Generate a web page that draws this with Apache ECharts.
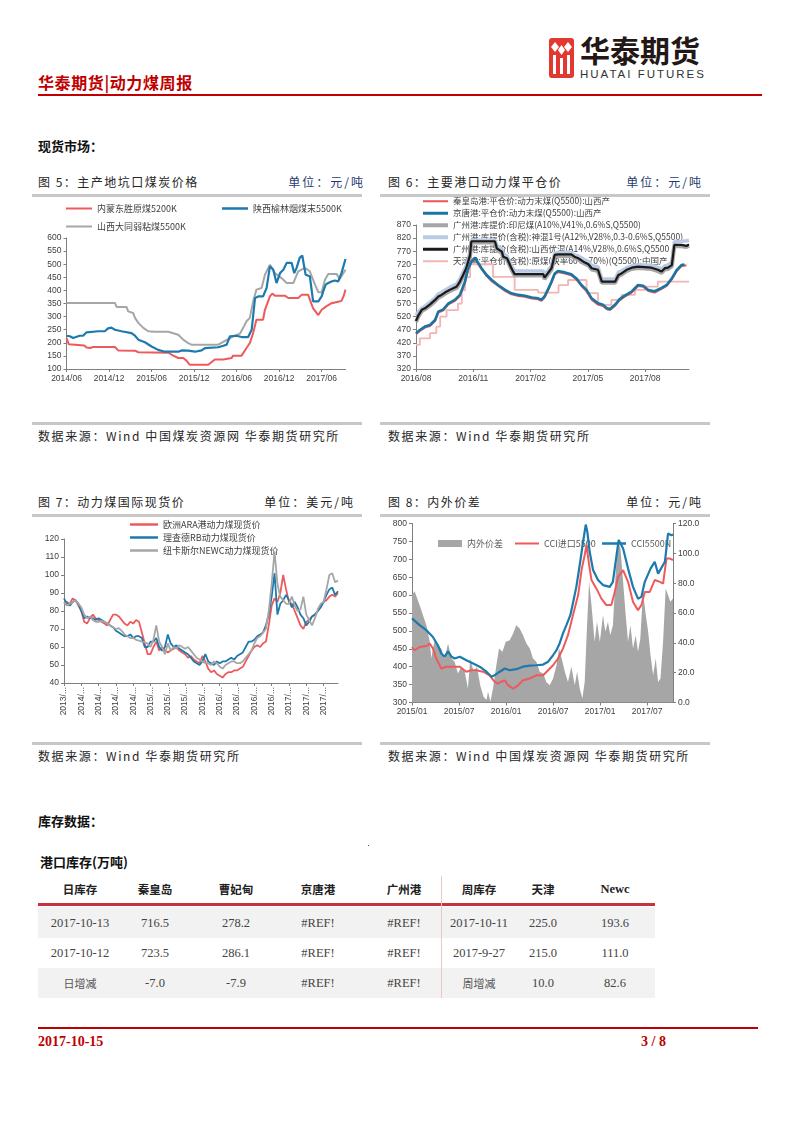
<!DOCTYPE html>
<html><head><meta charset="utf-8">
<script src="https://cdn.jsdelivr.net/npm/echarts@6/dist/echarts.min.js"></script>
<style>
body{margin:0;background:#fff;}
#page{position:relative;width:793px;height:1122px;overflow:hidden;background:#fff;font-family:'Noto Sans CJK SC',sans-serif;}
.a{position:absolute;white-space:nowrap;}
.title{font-size:12px;line-height:16px;color:#262626;letter-spacing:1.5px;}
.unit{font-size:12px;line-height:16px;letter-spacing:2px;text-align:right;}
.rule{position:absolute;height:3px;background:#C8C8C8;}
.src{font-size:12px;line-height:16px;color:#262626;letter-spacing:1.6px;}
.sec{font-size:13px;line-height:16px;font-weight:bold;color:#111;}
.cell{position:absolute;width:100px;text-align:center;line-height:16px;white-space:nowrap;}
.hd{font-size:11.5px;font-weight:bold;color:#222;}
.hdl{font-family:'Liberation Serif',serif;font-size:12.5px;font-weight:bold;color:#222;}
.num{font-family:'Liberation Serif',serif;font-size:12.5px;color:#444;}
.cj{font-size:11px;color:#555;}
#chart{position:absolute;left:0;top:0;width:793px;height:1122px;}
</style></head><body>
<div id="page">
  <!-- header -->
  <div class="a" style="left:38px;top:73px;font-size:16px;line-height:18px;color:#C00000;font-weight:bold;letter-spacing:0.6px;">华泰期货|动力煤周报</div>
  <div class="a" style="left:38px;top:94px;width:724px;height:2px;background:#C00000;"></div>
  <svg class="a" style="left:547px;top:35px;" width="170" height="48" viewBox="0 0 170 48">
    <rect x="2" y="3" width="25" height="40" rx="3" fill="#E2382F"/>
    <path d="M8 7 L12 12 L8 17 L4 12 Z" fill="#fff"/>
    <path d="M21 7 L25 12 L21 17 L17 12 Z" fill="#fff"/>
    <path d="M14.5 10 L18 15 L14.5 20 L11 15 Z" fill="#fff"/>
    <rect x="6" y="20" width="3" height="19" fill="#fff"/>
    <rect x="13" y="23" width="3" height="16" fill="#fff"/>
    <rect x="20" y="20" width="3" height="19" fill="#fff"/>
    <text x="33" y="27" font-family="Noto Sans CJK SC" font-weight="bold" font-size="30" fill="#231815">华泰期货</text>
    <text x="33" y="43" font-family="Liberation Sans" font-size="11.5" letter-spacing="2" fill="#333">HUATAI FUTURES</text>
  </svg>

  <div class="a sec" style="left:38px;top:138px;">现货市场：</div>

  <!-- chart frames -->
  <div class="a title" style="left:38px;top:174px;">图 5：主产地坑口煤炭价格</div>
  <div class="a unit" style="right:428px;top:174px;color:#1F3A6E;">单位：元/吨</div>
  <div class="rule" style="left:32px;top:194px;width:330px;"></div>
  <div class="rule" style="left:32px;top:422px;width:330px;"></div>
  <div class="a src" style="left:38px;top:428px;">数据来源：Wind 中国煤炭资源网 华泰期货研究所</div>

  <div class="a title" style="left:388px;top:174px;">图 6：主要港口动力煤平仓价</div>
  <div class="a unit" style="right:90px;top:174px;color:#1F3A6E;">单位：元/吨</div>
  <div class="rule" style="left:380px;top:194px;width:330px;"></div>
  <div class="rule" style="left:380px;top:422px;width:330px;"></div>
  <div class="a src" style="left:388px;top:428px;">数据来源：Wind 华泰期货研究所</div>

  <div class="a title" style="left:38px;top:494px;">图 7：动力煤国际现货价</div>
  <div class="a unit" style="right:438px;top:494px;color:#222;">单位：美元/吨</div>
  <div class="rule" style="left:32px;top:514px;width:330px;"></div>
  <div class="rule" style="left:32px;top:742px;width:330px;"></div>
  <div class="a src" style="left:38px;top:748px;">数据来源：Wind 华泰期货研究所</div>

  <div class="a title" style="left:388px;top:494px;">图 8：内外价差</div>
  <div class="a unit" style="right:90px;top:494px;color:#222;">单位：元/吨</div>
  <div class="rule" style="left:380px;top:514px;width:330px;"></div>
  <div class="rule" style="left:380px;top:742px;width:330px;"></div>
  <div class="a src" style="left:388px;top:748px;">数据来源：Wind 中国煤炭资源网 华泰期货研究所</div>

  <!-- inventory -->
  <div class="a sec" style="left:38px;top:813px;">库存数据：</div>
  <div class="a" style="left:368px;top:845px;width:1px;height:1px;background:#555;"></div>
  <div class="a sec" style="left:40px;top:854px;">港口库存(万吨)</div>
  <div id="table"></div>

  <!-- footer -->
  <div class="a" style="left:38px;top:1027px;width:720px;height:2px;background:#C00000;"></div>
  <div class="a" style="left:38px;top:1034px;font-family:'Liberation Serif',serif;font-weight:bold;font-size:14px;line-height:16px;color:#C00000;">2017-10-15</div>
  <div class="a" style="left:641px;top:1034px;font-family:'Liberation Serif',serif;font-weight:bold;font-size:14px;line-height:16px;color:#C00000;">3 / 8</div>

  <div id="chart"></div>
</div>
<script>
// ---------------- table data ----------------
const tblHeader = ['日库存','秦皇岛','曹妃甸','京唐港','广州港','周库存','天津','Newc'];
const tblRow1 = ['2017-10-13','716.5','278.2','#REF!','#REF!','2017-10-11','225.0','193.6'];
const tblRow2 = ['2017-10-12','723.5','286.1','#REF!','#REF!','2017-9-27','215.0','111.0'];
const tblRow3 = ['日增减','-7.0','-7.9','#REF!','#REF!','周增减','10.0','82.6'];

// ---------------- Figure 5 ----------------
const c5Names = ['内蒙东胜原煤5200K','陕西榆林烟煤末5500K','山西大同弱粘煤5500K'];
const c5Red = [['2014-06-01',218],['2014-06-11',194],['2014-08-16',190],['2014-08-26',182],['2014-09-10',180],['2014-09-24',184],['2014-12-26',184],['2015-01-10',171],['2015-03-21',170],['2015-04-05',164],['2015-08-12',162],['2015-08-19',161],['2015-09-03',151],['2015-09-24',142],['2015-10-15',142],['2015-10-29',132],['2015-11-13',116],['2016-02-01',116],['2016-02-08',123],['2016-02-29',136],['2016-04-05',136],['2016-04-11',142],['2016-05-10',142],['2016-05-16',151],['2016-06-22',151],['2016-06-29',158],['2016-07-13',180],['2016-07-27',199],['2016-08-11',237],['2016-08-25',288],['2016-09-23',288],['2016-10-01',326],['2016-10-22',377],['2016-11-02',388],['2016-11-13',380],['2016-12-25',380],['2017-01-10',371],['2017-02-22',371],['2017-03-06',383],['2017-04-04',383],['2017-04-11',377],['2017-04-25',331],['2017-05-17',306],['2017-06-01',326],['2017-06-22',340],['2017-07-13',351],['2017-08-11',357],['2017-08-25',360],['2017-09-04',378],['2017-09-12',403]];
const c5Blue = [['2014-06-01',227],['2014-06-15',225],['2014-06-29',218],['2014-07-27',227],['2014-08-11',227],['2014-08-26',240],['2014-10-15',244],['2014-11-13',244],['2014-11-27',255],['2014-12-11',258],['2014-12-26',250],['2015-01-24',244],['2015-03-06',237],['2015-03-21',227],['2015-04-05',212],['2015-05-03',202],['2015-06-01',186],['2015-06-29',173],['2015-07-27',166],['2015-09-24',166],['2015-10-08',171],['2015-11-06',170],['2015-12-05',166],['2016-01-03',171],['2016-01-17',180],['2016-03-13',183],['2016-04-05',189],['2016-04-19',193],['2016-05-03',225],['2016-06-01',227],['2016-06-22',222],['2016-07-20',222],['2016-08-05',250],['2016-08-19',371],['2016-09-03',377],['2016-09-23',377],['2016-10-08',409],['2016-10-22',492],['2016-11-06',480],['2016-11-20',428],['2016-12-05',466],['2016-12-19',479],['2017-01-03',505],['2017-01-24',505],['2017-02-05',466],['2017-02-15',486],['2017-02-28',524],['2017-03-09',533],['2017-03-23',460],['2017-04-11',454],['2017-04-25',358],['2017-05-17',358],['2017-06-01',377],['2017-06-08',397],['2017-06-18',422],['2017-06-29',428],['2017-07-13',434],['2017-07-27',438],['2017-08-11',434],['2017-08-25',466],['2017-09-12',520]];
const c5Gray = [['2014-06-01',352],['2014-12-26',352],['2015-01-03',337],['2015-02-15',337],['2015-02-22',320],['2015-03-13',314],['2015-03-21',295],['2015-04-05',276],['2015-04-26',257],['2015-05-17',244],['2015-06-15',242],['2015-08-12',242],['2015-08-19',235],['2015-09-24',231],['2015-10-15',212],['2015-11-06',199],['2015-11-20',193],['2016-03-13',193],['2016-04-05',204],['2016-04-26',214],['2016-05-24',227],['2016-06-15',235],['2016-06-29',257],['2016-07-13',282],['2016-07-27',295],['2016-08-11',358],['2016-08-25',403],['2016-09-17',409],['2016-10-01',460],['2016-10-22',498],['2016-11-13',466],['2016-12-11',447],['2017-01-03',428],['2017-02-01',428],['2017-02-22',473],['2017-03-20',486],['2017-04-11',473],['2017-05-03',422],['2017-05-17',393],['2017-06-01',393],['2017-06-15',441],['2017-06-29',463],['2017-08-04',463],['2017-08-18',444],['2017-09-12',479]];

// ---------------- Figure 6 ----------------
const c6Names = ['秦皇岛港:平仓价:动力末煤(Q5500):山西产','京唐港:平仓价:动力末煤(Q5500):山西产','广州港:库提价:印尼煤(A10%,V41%,0.6%S,Q5500)','广州港:库提价(含税):神混1号(A12%,V28%,0.3-0.6%S,Q5500)','广州港:库提价(含税):山西优混(A14%,V28%,0.6%S,Q5500','天津港:平仓价(含税):原煤(块率60%-70%)(Q5500):中国产'];
const c6Qhd = [['2016-08-01',453],['2016-08-07',465],['2016-08-15',478],['2016-08-23',484],['2016-08-31',503],['2016-09-06',535],['2016-09-14',544],['2016-09-22',567],['2016-10-02',580],['2016-10-10',599],['2016-10-18',650],['2016-10-23',700],['2016-10-28',726],['2016-11-04',741],['2016-11-09',720],['2016-11-14',701],['2016-11-22',675],['2016-11-30',655],['2016-12-10',637],['2016-12-21',618],['2017-01-01',605],['2017-01-12',599],['2017-01-22',596],['2017-02-03',589],['2017-02-13',586],['2017-02-18',580],['2017-02-23',593],['2017-02-28',618],['2017-03-04',650],['2017-03-09',681],['2017-03-14',690],['2017-03-25',685],['2017-04-05',678],['2017-04-13',662],['2017-04-21',637],['2017-04-29',617],['2017-05-07',585],['2017-05-17',566],['2017-05-25',560],['2017-05-31',548],['2017-06-06',545],['2017-06-14',562],['2017-06-21',583],['2017-06-29',596],['2017-07-10',612],['2017-07-20',637],['2017-07-28',634],['2017-08-06',618],['2017-08-16',612],['2017-08-27',626],['2017-09-05',637],['2017-09-13',662],['2017-09-21',695],['2017-09-28',712],['2017-10-06',716]];
const c6Jtg = [['2016-08-01',457],['2016-08-07',469],['2016-08-15',482],['2016-08-23',488],['2016-08-31',507],['2016-09-06',539],['2016-09-14',548],['2016-09-22',571],['2016-10-02',584],['2016-10-10',603],['2016-10-18',654],['2016-10-23',705],['2016-10-28',730],['2016-11-04',745],['2016-11-09',724],['2016-11-14',705],['2016-11-22',679],['2016-11-30',660],['2016-12-10',641],['2016-12-21',622],['2017-01-01',609],['2017-01-12',603],['2017-01-22',600],['2017-02-03',593],['2017-02-13',590],['2017-02-18',584],['2017-02-23',597],['2017-02-28',622],['2017-03-04',654],['2017-03-09',685],['2017-03-14',694],['2017-03-25',689],['2017-04-05',682],['2017-04-13',666],['2017-04-21',641],['2017-04-29',622],['2017-05-07',590],['2017-05-17',571],['2017-05-25',565],['2017-05-31',552],['2017-06-06',549],['2017-06-14',566],['2017-06-21',587],['2017-06-29',600],['2017-07-10',616],['2017-07-20',641],['2017-07-28',638],['2017-08-06',622],['2017-08-16',617],['2017-08-27',630],['2017-09-05',641],['2017-09-13',666],['2017-09-21',699],['2017-09-28',717],['2017-10-03',719]];
const c6Indo = [['2016-08-01',500],['2016-08-05',521],['2016-08-10',541],['2016-08-15',548],['2016-08-23',562],['2016-08-31',579],['2016-09-06',592],['2016-09-11',598],['2016-09-17',608],['2016-09-27',621],['2016-10-05',630],['2016-10-10',649],['2016-10-15',674],['2016-10-20',700],['2016-10-26',750],['2016-10-28',803],['2016-12-05',803],['2016-12-08',776],['2016-12-16',763],['2016-12-18',744],['2016-12-24',738],['2017-01-01',700],['2017-01-06',677],['2017-02-21',677],['2017-02-23',664],['2017-02-28',680],['2017-03-04',700],['2017-03-09',750],['2017-03-14',752],['2017-04-05',752],['2017-04-10',744],['2017-04-16',738],['2017-04-24',725],['2017-05-02',715],['2017-05-07',700],['2017-05-17',694],['2017-05-23',649],['2017-06-14',649],['2017-06-19',674],['2017-06-24',680],['2017-07-02',694],['2017-07-10',702],['2017-07-20',706],['2017-08-11',702],['2017-08-21',694],['2017-08-27',687],['2017-09-02',700],['2017-09-07',702],['2017-09-13',712],['2017-09-17',789],['2017-09-28',789],['2017-10-06',786],['2017-10-10',791]];
const c6Shenhun = [['2016-08-01',526],['2016-08-05',540],['2016-08-10',552],['2016-08-15',560],['2016-08-23',575],['2016-08-31',592],['2016-09-06',607],['2016-09-11',612],['2016-09-17',622],['2016-09-27',636],['2016-10-05',645],['2016-10-10',664],['2016-10-15',690],['2016-10-20',715],['2016-10-26',768],['2016-10-28',812],['2016-12-05',812],['2016-12-08',792],['2016-12-16',778],['2016-12-18',760],['2016-12-24',752],['2017-01-01',715],['2017-01-06',694],['2017-02-21',694],['2017-02-23',680],['2017-02-28',695],['2017-03-04',715],['2017-03-09',762],['2017-03-14',765],['2017-04-05',765],['2017-04-10',756],['2017-04-16',752],['2017-04-24',740],['2017-05-02',730],['2017-05-07',715],['2017-05-17',710],['2017-05-23',664],['2017-06-14',664],['2017-06-19',690],['2017-06-24',695],['2017-07-02',707],['2017-07-10',714],['2017-07-20',718],['2017-08-11',716],['2017-08-21',708],['2017-08-27',702],['2017-09-02',714],['2017-09-07',718],['2017-09-13',728],['2017-09-17',806],['2017-09-28',808],['2017-10-06',810],['2017-10-10',812]];
const c6Youhun = [['2016-08-01',504],['2016-08-05',526],['2016-08-10',546],['2016-08-15',552],['2016-08-23',567],['2016-08-31',584],['2016-09-06',597],['2016-09-11',603],['2016-09-17',613],['2016-09-27',626],['2016-10-05',635],['2016-10-10',654],['2016-10-15',679],['2016-10-20',705],['2016-10-26',756],['2016-10-28',808],['2016-12-05',808],['2016-12-08',781],['2016-12-16',768],['2016-12-18',749],['2016-12-24',743],['2017-01-01',705],['2017-01-06',682],['2017-02-21',682],['2017-02-23',669],['2017-02-28',685],['2017-03-04',705],['2017-03-09',756],['2017-03-14',758],['2017-04-05',758],['2017-04-10',749],['2017-04-16',743],['2017-04-24',730],['2017-05-02',720],['2017-05-07',705],['2017-05-17',699],['2017-05-23',654],['2017-06-14',654],['2017-06-19',679],['2017-06-24',685],['2017-07-02',699],['2017-07-10',707],['2017-07-20',711],['2017-08-11',707],['2017-08-21',699],['2017-08-27',692],['2017-09-02',705],['2017-09-07',707],['2017-09-13',717],['2017-09-17',794],['2017-09-28',794],['2017-10-06',790],['2017-10-10',796]];
const c6Tianjin = [['2016-08-01',412],['2016-08-07',437],['2016-08-23',457],['2016-09-03',482],['2016-09-09',520],['2016-09-19',545],['2016-10-07',570],['2016-10-13',620],['2016-10-18',670],['2016-10-26',720],['2016-12-02',672],['2017-01-06',622],['2017-02-13',612],['2017-03-15',640],['2017-03-30',660],['2017-04-29',610],['2017-05-17',565],['2017-06-08',584],['2017-06-24',603],['2017-07-15',622],['2017-07-31',635],['2017-08-21',654],['2017-10-10',654]];

// ---------------- Figure 7 (half-monthly, from 2013/10) ----------------
const c7Start = [2013, 10];
const c7Names = ['欧洲ARA港动力煤现货价','理查德RB动力煤现货价','纽卡斯尔NEWC动力煤现货价'];
const c7Ara = [84,85,84,87,86,83,80,74,73,76,78,76,75,74,73,72,75,78,78,77,75,73,72,74,73,75,74,68,62,56,56,60,63,58,60,58,57,58,59,60,58,57,56,54,55,53,52,51,55,52,48,46,47,45,44,43,45,46,46,47,47,48,49,52,55,58,60,61,60,62,63,72,83,87,85,90,100,92,85,84,80,76,72,70,74,75,77,78,80,83,85,86,88,89,88,90];
const c7Rb = [87,84,83,85,86,84,80,76,77,76,76,75,76,75,74,73,72,71,69,68,67,66,66,67,65,66,66,65,60,60,63,63,65,60,58,60,67,62,60,61,59,58,57,56,54,52,51,50,52,56,52,51,50,52,51,52,52,53,54,53,55,56,57,60,63,63,64,66,67,68,72,78,88,101,78,84,86,89,86,82,85,82,78,76,72,74,77,78,80,82,85,89,92,93,89,91];
const c7Newc = [85,83,84,85,86,84,82,78,76,77,75,74,74,74.5,74,73,72,71,70,70.5,69,67,66,65,65,64,63.5,63,62.5,62,60,64,72,63,60,56,62,58,60,59,61,60,59,60,58,56,54,53,52,51,51,50,52,51,49,48,50,51,52,52,51,51,52,54,56,58,62,65,66,68,70,80,95,113,95,88,86,84,84,88,83,80,81,88,78,75,72,76,81,84,85,92,100,101,96,97];

// ---------------- Figure 8 ----------------
const c8Names = ['内外价差','CCI进口5500','CCI5500N'];
const c8Spread = [['2015-01-01',72],['2015-01-11',74.6],['2015-01-17',75.3],['2015-01-30',65.3],['2015-02-13',58.5],['2015-02-26',51.8],['2015-03-09',40.7],['2015-03-15',29.5],['2015-03-21',36.2],['2015-03-28',41.8],['2015-04-10',38.4],['2015-04-23',36.2],['2015-05-06',29.5],['2015-05-19',39.6],['2015-05-25',38.4],['2015-06-02',29.5],['2015-06-14',27.3],['2015-06-27',19.4],['2015-07-10',23.9],['2015-07-23',20.6],['2015-08-05',9.4],['2015-08-14',29.5],['2015-08-27',20.6],['2015-09-10',23.9],['2015-09-22',11.6],['2015-10-05',3.8],['2015-10-16',1.6],['2015-10-22',7.2],['2015-11-01',0.6],['2015-11-11',9.4],['2015-11-24',25],['2015-12-04',36.2],['2015-12-17',34],['2015-12-30',40.7],['2016-01-15',41.8],['2016-01-28',46.3],['2016-02-10',51.8],['2016-02-23',49.6],['2016-03-06',45.1],['2016-03-19',39.6],['2016-04-02',36.2],['2016-04-14',29.5],['2016-04-27',27.3],['2016-05-10',20.6],['2016-05-23',19.4],['2016-06-05',13.8],['2016-06-18',11.6],['2016-07-01',16.1],['2016-07-14',25],['2016-07-24',36.2],['2016-08-04',29.5],['2016-08-16',20.6],['2016-08-28',13.8],['2016-09-11',23.9],['2016-09-24',11.6],['2016-10-03',20.6],['2016-10-13',9.4],['2016-10-23',2.7],['2016-11-02',13.8],['2016-11-11',51.8],['2016-11-19',80.9],['2016-11-28',65.3],['2016-12-10',40.7],['2016-12-19',54.1],['2016-12-30',40.7],['2017-01-12',58.5],['2017-01-21',47.4],['2017-02-01',54.1],['2017-02-10',45.1],['2017-02-20',51.8],['2017-03-01',87.6],['2017-03-10',107.7],['2017-03-19',103.2],['2017-03-29',80.9],['2017-04-09',58.5],['2017-04-18',40.7],['2017-04-27',51.8],['2017-05-07',36.2],['2017-05-17',45.1],['2017-05-26',34],['2017-06-05',42.9],['2017-06-15',74.2],['2017-06-26',58.5],['2017-07-05',47.4],['2017-07-14',31.7],['2017-07-24',18.3],['2017-08-04',29.5],['2017-08-13',13.8],['2017-08-22',16.1],['2017-09-02',40.7],['2017-09-12',76.4],['2017-09-21',72],['2017-09-30',67.5],['2017-10-10',69.7]];
const c8Import = [['2015-01-01',455],['2015-01-11',446],['2015-01-30',455],['2015-02-26',458],['2015-03-09',465],['2015-03-21',451],['2015-04-04',423],['2015-04-23',395],['2015-05-12',400],['2015-06-08',400],['2015-07-04',400],['2015-07-29',386],['2015-08-18',390],['2015-09-07',390],['2015-10-03',386],['2015-10-28',376],['2015-11-17',358],['2015-11-30',353],['2015-12-13',358],['2015-12-26',362],['2016-01-09',348],['2016-01-28',339],['2016-02-17',348],['2016-03-06',362],['2016-04-02',367],['2016-04-27',376],['2016-05-23',376],['2016-06-12',390],['2016-07-01',404],['2016-07-20',423],['2016-08-09',451],['2016-08-28',488],['2016-09-17',544],['2016-10-07',600],['2016-10-20',670],['2016-11-02',712],['2016-11-09',740],['2016-11-19',684],['2016-11-28',642],['2016-12-17',618],['2017-01-06',590],['2017-01-25',572],['2017-02-14',572],['2017-02-27',609],['2017-03-10',651],['2017-03-29',670],['2017-04-18',637],['2017-05-07',581],['2017-05-26',558],['2017-06-09',572],['2017-06-22',609],['2017-07-11',609],['2017-07-30',642],['2017-08-20',637],['2017-09-02',632],['2017-09-15',702],['2017-09-28',702],['2017-10-10',698]];
const c8Cci = [['2015-01-01',535],['2015-01-30',516],['2015-02-26',502],['2015-03-21',483],['2015-04-10',460],['2015-04-23',437],['2015-05-06',428],['2015-05-19',443],['2015-05-23',446],['2015-06-02',428],['2015-06-14',423],['2015-07-04',428],['2015-07-29',418],['2015-08-25',409],['2015-09-20',400],['2015-10-16',386],['2015-11-05',372],['2015-11-17',376],['2015-12-07',386],['2015-12-26',395],['2016-01-15',390],['2016-02-10',393],['2016-03-06',400],['2016-04-02',403],['2016-04-27',404],['2016-05-23',406],['2016-06-12',414],['2016-07-01',432],['2016-07-14',446],['2016-07-26',465],['2016-08-09',493],['2016-08-22',516],['2016-09-07',544],['2016-09-17',577],['2016-09-30',623],['2016-10-13',684],['2016-10-26',749],['2016-11-06',797],['2016-11-12',777],['2016-11-21',721],['2016-12-04',670],['2016-12-23',642],['2017-01-12',628],['2017-02-08',623],['2017-02-20',637],['2017-03-04',712],['2017-03-12',754],['2017-03-29',730],['2017-04-18',674],['2017-05-07',623],['2017-05-26',590],['2017-06-09',595],['2017-06-22',637],['2017-07-14',674],['2017-07-30',693],['2017-08-13',660],['2017-08-20',658],['2017-09-09',693],['2017-09-21',772],['2017-10-04',767],['2017-10-10',769]];

// ---------------- helpers ----------------
const FONT = "'Liberation Sans','Noto Sans CJK SC',sans-serif";
const CJK = "'Noto Sans CJK SC','Liberation Sans',sans-serif";
function mIdx(base){ return d => { const p = d.split('-').map(Number); return (p[0]-base[0])*12 + (p[1]-base[1]) + (p[2]-1)/30; }; }
function toXY(arr, base){ const f = mIdx(base); return arr.map(r => [f(r[0]), r[1]]); }
function fmtMonth(base){ return v => { const r = Math.round(v); if (Math.abs(v-r) > 0.01) return ''; const t = base[0]*12 + base[1]-1 + r; const y = Math.floor(t/12), m = t%12+1; return y + '/' + String(m).padStart(2,'0'); }; }
function lastX(list, base){ const f = mIdx(base); return Math.max(...list.map(a => f(a[a.length-1][0]))); }

const axisCol = '#7F7F7F';
function xVal(gi, base, max, interval){
  return {type:'value', gridIndex:gi, min:0, max:max, interval:interval,
    axisLine:{show:true, lineStyle:{color:axisCol}}, axisTick:{show:true, length:3, lineStyle:{color:axisCol}},
    splitLine:{show:false},
    axisLabel:{color:'#404040', fontSize:8.5, fontFamily:FONT, margin:5, formatter:fmtMonth(base), showMaxLabel:false}};
}
function yVal(gi, min, max, interval, extra){
  return Object.assign({type:'value', gridIndex:gi, min:min, max:max, interval:interval,
    axisLine:{show:true, lineStyle:{color:axisCol}}, axisTick:{show:true, length:3, lineStyle:{color:axisCol}},
    splitLine:{show:false},
    axisLabel:{color:'#404040', fontSize:8.5, fontFamily:FONT, margin:5}}, extra||{});
}
// legend with a plain line icon (rect of line thickness)
function lg(name, left, top, thick, o){
  return Object.assign({data:[{name:name, icon:'rect'}], left:left, top:top, padding:0, itemGap:0, itemWidth:26, itemHeight:thick,
    z:1, selectedMode:false, textStyle:{fontSize:9, color:'#404040', fontFamily:CJK}}, o||{});
}
function ln(name, data, color, width, xi, yi, extra){
  return Object.assign({type:'line', name:name, data:data, xAxisIndex:xi, yAxisIndex:yi, symbol:'none', z:3,
    color:color, lineStyle:{color:color, width:width}, animation:false}, extra||{});
}

const b5=[2014,6], b6=[2016,8], b8=[2015,1];
const max5 = lastX([c5Red,c5Blue,c5Gray], b5);
const max6 = lastX([c6Qhd,c6Jtg,c6Indo,c6Shenhun,c6Youhun,c6Tianjin], b6);
const max8 = lastX([c8Spread,c8Import,c8Cci], b8);

const c7Len = Math.max(c7Ara.length, c7Rb.length, c7Newc.length);
const c7Cats = [];
for (let i=0;i<c7Len;i++){ const t = c7Start[0]*12 + c7Start[1]-1 + Math.floor(i/2); const y=Math.floor(t/12), m=t%12+1; c7Cats.push(y+'/'+String(m).padStart(2,'0')+(i%2?'/16':'')); }

const C = {red:'#EE5A5C', blue:'#1C7AAD', gray:'#A6A6A6'};
const L6 = {textStyle:{fontSize:8.5, color:'#404040', fontFamily:CJK}, itemWidth:25};
const L8 = {textStyle:{fontSize:9, color:'#595959', fontFamily:CJK}, itemWidth:24};

const option = {
  animation:false,
  grid:[
    {left:66.5, top:238, width:279, height:131, outerBoundsMode:'none'},
    {left:416, top:225, width:273, height:144, outerBoundsMode:'none'},
    {left:64, top:539, width:274, height:144, outerBoundsMode:'none'},
    {left:412, top:523.5, width:261, height:179, outerBoundsMode:'none'}
  ],
  xAxis:[
    xVal(0, b5, max5, 6),
    xVal(1, b6, max6, 3),
    {type:'category', gridIndex:2, data:c7Cats, boundaryGap:false,
      axisLine:{show:true, lineStyle:{color:axisCol}}, axisTick:{show:true, interval:5, length:3, lineStyle:{color:axisCol}},
      axisLabel:{interval:5, rotate:90, color:'#404040', fontSize:8.5, fontFamily:FONT, margin:4,
        formatter:v => v.substring(0,7), width:31, overflow:'truncate', ellipsis:'...'}},
    xVal(3, b8, max8, 6)
  ],
  yAxis:[
    yVal(0, 100, 600, 50),
    yVal(1, 320, 870, 50),
    yVal(2, 40, 120, 10),
    yVal(3, 300, 800, 50),
    yVal(3, 0, 120, 20, {position:'right', axisLabel:{color:'#404040', fontSize:8.5, fontFamily:FONT, margin:5, formatter:v => v.toFixed(1)}})
  ],
  legend:[
    lg(c5Names[0], 66, 204, 2),
    lg(c5Names[1], 222, 204, 2.5),
    lg(c5Names[2], 66, 222, 2),
    lg(c6Names[0], 423, 197, 2, L6),
    lg(c6Names[1], 423, 209, 3, L6),
    lg(c6Names[2], 423, 221, 4, L6),
    lg(c6Names[3], 423, 233, 4, L6),
    lg(c6Names[4], 423, 245, 3, L6),
    lg(c6Names[5], 423, 257, 2, L6),
    lg(c7Names[0], 130, 520, 2.5, {itemWidth:28}),
    lg(c7Names[1], 130, 533, 2.5, {itemWidth:28}),
    lg(c7Names[2], 130, 546, 2.5, {itemWidth:28}),
    lg(c8Names[0], 438, 539, 7, L8),
    lg(c8Names[1], 515, 539, 2, L8),
    lg(c8Names[2], 602, 539, 2.5, L8)
  ],
  series:[
    ln(c5Names[2], toXY(c5Gray,b5), C.gray, 2, 0, 0),
    ln(c5Names[0], toXY(c5Red,b5), C.red, 2, 0, 0),
    ln(c5Names[1], toXY(c5Blue,b5), C.blue, 2.2, 0, 0),

    ln(c6Names[5], toXY(c6Tianjin,b6), '#F2B4B4', 1.8, 1, 1, {step:'end'}),
    ln(c6Names[3], toXY(c6Shenhun,b6), '#B8CAE6', 3.5, 1, 1),
    ln(c6Names[2], toXY(c6Indo,b6), '#A6A6A6', 4, 1, 1),
    ln(c6Names[4], toXY(c6Youhun,b6), '#1A1A1A', 2.2, 1, 1),
    ln(c6Names[0], toXY(c6Qhd,b6), '#E8595A', 2, 1, 1),
    ln(c6Names[1], toXY(c6Jtg,b6), '#1B75A2', 2.6, 1, 1),

    ln(c7Names[0], c7Ara, C.red, 1.8, 2, 2),
    ln(c7Names[1], c7Rb, C.blue, 1.8, 2, 2),
    ln(c7Names[2], c7Newc, C.gray, 1.8, 2, 2),

    ln(c8Names[0], toXY(c8Spread,b8), '#A6A6A6', 0, 3, 4, {areaStyle:{color:'#A6A6A6', opacity:1}, z:2}),
    ln(c8Names[1], toXY(c8Import,b8), C.red, 2, 3, 3),
    ln(c8Names[2], toXY(c8Cci,b8), C.blue, 2.2, 3, 3)
  ]
};
const chart = echarts.init(document.getElementById('chart'), null, {renderer:'canvas'});
chart.setOption(option);

// ---------------- table ----------------
(function(){
  const host = document.getElementById('table');
  const cx = [80, 155, 236, 318, 404, 479, 543, 615];
  let h = '';
  h += '<div class="a" style="left:38px;top:907px;width:617px;height:31px;background:#F2F2F2;"></div>';
  h += '<div class="a" style="left:38px;top:968px;width:617px;height:30px;background:#F2F2F2;"></div>';
  h += '<div class="a" style="left:38px;top:903px;width:617px;height:3px;background:#C8323C;"></div>';
  h += '<div class="a" style="left:441px;top:876px;width:1px;height:122px;background:#F3C4C4;"></div>';
  const rows = [[tblHeader, 881, 'hd'], [tblRow1, 915, 'num'], [tblRow2, 945, 'num'], [tblRow3, 975, 'num']];
  rows.forEach(([r, top, cls]) => {
    r.forEach((t, i) => {
      let c = cls;
      if (cls === 'hd' && /^[A-Za-z]/.test(t)) c = 'hdl';
      if (cls === 'num' && /[\u4e00-\u9fff]/.test(t)) c = 'cj';
      h += '<div class="cell ' + c + '" style="left:' + (cx[i]-50) + 'px;top:' + top + 'px;">' + t + '</div>';
    });
  });
  host.innerHTML = h;
})();
</script>
</body></html>
